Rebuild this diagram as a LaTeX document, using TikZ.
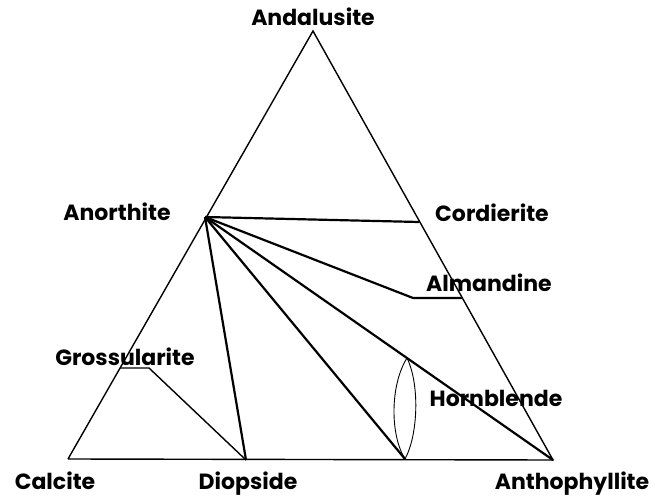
\documentclass[tikz,border=0pt]{standalone}
\usepackage{fontspec}
\setmainfont{Poppins}[BoldFont={* Bold}]
\begin{document}
\begin{tikzpicture}[x=1pt,y=-1pt,
  lbl/.style={font=\bfseries\fontsize{22}{24}\selectfont, inner sep=0pt},
  edge/.style={line width=1.4pt},
  ray/.style={line width=2.2pt},
  lens/.style={line width=0.9pt}]
\useasboundingbox (0,0) rectangle (655,502);
% corners and points
\coordinate (A) at (313,31);
\coordinate (C) at (68,459);
\coordinate (P) at (553,460);
\coordinate (An) at (205,217);
\coordinate (Co) at (419,222);
\coordinate (AlL) at (413,298);
\coordinate (AlR) at (462,298);
\coordinate (GrL) at (120,368);
\coordinate (GrR) at (149,368);
\coordinate (Di) at (246,460);
\coordinate (HbB) at (405,459);
\coordinate (HbT) at (407,358);
% triangle
\draw[edge] (C) -- (A) -- (P) -- (C);
% anorthite rays
\draw[ray] (An) -- (Co);
\draw[ray] (An) -- (AlL) -- (AlR);
\draw[ray] (An) -- (Di);
\draw[ray] (An) -- (HbB);
\draw[ray] (An) -- (P);
% grossularite
\draw[edge] (GrL) -- (GrR) -- (Di);
% hornblende lens
\draw[lens] (HbT) .. controls (390,385) and (390,435) .. (HbB);
\draw[lens] (HbT) .. controls (420,385) and (418,435) .. (HbB);
% labels
\node[lbl] (tA) at (313,17) {Andalusite};
\node[lbl] (tAn) at (117,212) {Anorthite};
\node[lbl] (tCo) at (492,213) {Cordierite};
\node[lbl] (tAl) at (489,283) {Almandine};
\node[lbl] (tGr) at (125,357) {Grossularite};
\node[lbl] (tHb) at (496,398) {Hornblende};
\node[lbl] (tCa) at (55,481) {Calcite};
\node[lbl] (tDi) at (248,484) {Diopside};
\node[lbl] (tP) at (572,484) {Anthophyllite};
\end{tikzpicture}
\end{document}
